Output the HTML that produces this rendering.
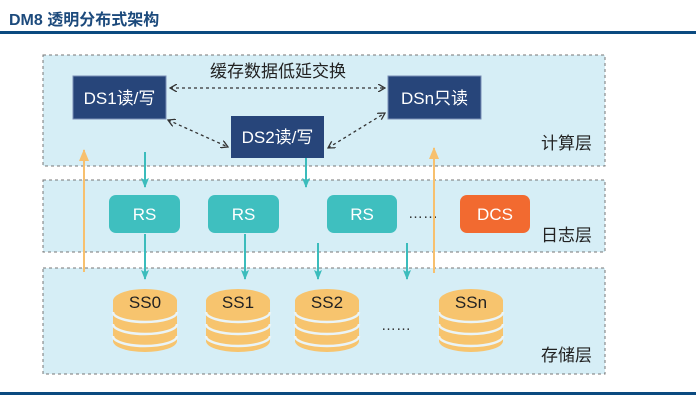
<!DOCTYPE html>
<html><head><meta charset="utf-8"><style>
body{margin:0;background:#fff;width:696px;height:406px;overflow:hidden}
svg{display:block}
text{font-family:"Liberation Sans","Noto Sans CJK SC",sans-serif}
</style></head><body>
<svg width="696" height="406" viewBox="0 0 696 406">
<defs>
<marker id="ta" markerWidth="10" markerHeight="8" refX="9" refY="4" orient="auto" markerUnits="userSpaceOnUse"><path d="M0,0 L10,4 L0,8 L2,4 Z" fill="#3bbcbc"/></marker>
<marker id="oa" markerWidth="12" markerHeight="10" refX="11" refY="5" orient="auto" markerUnits="userSpaceOnUse"><path d="M0,0 L12,5 L0,10 Z" fill="#f7c06e"/></marker>
<marker id="da" markerWidth="8" markerHeight="8" refX="7" refY="4" orient="auto" markerUnits="userSpaceOnUse"><path d="M0,0 L7,4 L0,8" fill="none" stroke="#333" stroke-width="1.3"/></marker>
<marker id="ds" markerWidth="8" markerHeight="8" refX="1" refY="4" orient="auto" markerUnits="userSpaceOnUse"><path d="M8,0 L1,4 L8,8" fill="none" stroke="#333" stroke-width="1.3"/></marker>
<g id="cyl">
<ellipse cx="0" cy="52" rx="32" ry="11" fill="#f7c46e"/>
<rect x="-32" y="11" width="64" height="41" fill="#f7c46e"/>
<path d="M-32,23 A32,10 0 0 0 32,23" fill="none" stroke="#eaf4f7" stroke-width="2.5"/>
<path d="M-32,35 A32,10 0 0 0 32,35" fill="none" stroke="#eaf4f7" stroke-width="2.5"/>
<path d="M-32,47 A32,10 0 0 0 32,47" fill="none" stroke="#eaf4f7" stroke-width="2.5"/>
<ellipse cx="0" cy="12" rx="32" ry="12" fill="#f7c46e"/>
</g>
</defs>
<text x="9" y="25" font-size="16" font-weight="bold" fill="#1c4a7c">DM8 透明分布式架构</text>
<rect x="0" y="31" width="696" height="3" fill="#0b4a80"/>
<rect x="0" y="392" width="696" height="3" fill="#0b4a80"/>

<rect x="43" y="55" width="562" height="111" fill="#d6eef6" stroke="#777" stroke-dasharray="3,3"/>
<rect x="43" y="180" width="562" height="72" fill="#d6eef6" stroke="#777" stroke-dasharray="3,3"/>
<rect x="43" y="268" width="562" height="106" fill="#d6eef6" stroke="#777" stroke-dasharray="3,3"/>

<text x="210" y="77" font-size="17" fill="#222">缓存数据低延交换</text>
<rect x="73" y="76" width="93" height="43" fill="#27457a" stroke="#7a8fb5"/>
<text x="119.5" y="104" font-size="17" fill="#fff" text-anchor="middle">DS1读/写</text>
<rect x="231" y="116" width="93" height="42" fill="#27457a"/>
<text x="277.5" y="143" font-size="17" fill="#fff" text-anchor="middle">DS2读/写</text>
<rect x="388" y="76" width="93" height="43" fill="#27457a" stroke="#7a8fb5"/>
<text x="434.5" y="104" font-size="17" fill="#fff" text-anchor="middle">DSn只读</text>

<line x1="170" y1="88" x2="385" y2="88" stroke="#333" stroke-width="1.3" stroke-dasharray="3,3" marker-start="url(#ds)" marker-end="url(#da)"/>
<line x1="168" y1="120" x2="228" y2="147" stroke="#333" stroke-width="1.3" stroke-dasharray="3,3" marker-start="url(#ds)" marker-end="url(#da)"/>
<line x1="328" y1="148" x2="385" y2="113" stroke="#333" stroke-width="1.3" stroke-dasharray="3,3" marker-start="url(#ds)" marker-end="url(#da)"/>

<text x="541" y="149" font-size="17" fill="#222">计算层</text>
<text x="541" y="241" font-size="17" fill="#222">日志层</text>
<text x="541" y="361" font-size="17" fill="#222">存储层</text>

<rect x="109" y="195" width="71" height="38" rx="7" fill="#3fbfbf"/>
<text x="144.5" y="220" font-size="17" fill="#fff" text-anchor="middle">RS</text>
<rect x="208" y="195" width="71" height="38" rx="7" fill="#3fbfbf"/>
<text x="243.5" y="220" font-size="17" fill="#fff" text-anchor="middle">RS</text>
<rect x="327" y="195" width="70" height="38" rx="7" fill="#3fbfbf"/>
<text x="362" y="220" font-size="17" fill="#fff" text-anchor="middle">RS</text>
<text x="408" y="218" font-size="15" fill="#333">……</text>
<rect x="460" y="195" width="70" height="38" rx="7" fill="#f26a30"/>
<text x="495" y="220" font-size="17" fill="#fff" text-anchor="middle">DCS</text>

<line x1="84" y1="272" x2="84" y2="150" stroke="#f7c06e" stroke-width="2" marker-end="url(#oa)"/>
<line x1="434" y1="273" x2="434" y2="148" stroke="#f7c06e" stroke-width="2" marker-end="url(#oa)"/>

<g stroke="#3bbcbc" stroke-width="2">
<line x1="145" y1="152" x2="145" y2="187" marker-end="url(#ta)"/>
<line x1="306" y1="158" x2="306" y2="187" marker-end="url(#ta)"/>
<line x1="145" y1="234" x2="145" y2="279" marker-end="url(#ta)"/>
<line x1="245" y1="234" x2="245" y2="279" marker-end="url(#ta)"/>
<line x1="318" y1="243" x2="318" y2="279" marker-end="url(#ta)"/>
<line x1="407" y1="243" x2="407" y2="279" marker-end="url(#ta)"/>
</g>

<use href="#cyl" x="145" y="289"/>
<use href="#cyl" x="238" y="289"/>
<use href="#cyl" x="327" y="289"/>
<use href="#cyl" x="471" y="289"/>
<text x="145" y="308" font-size="17" fill="#222" text-anchor="middle">SS0</text>
<text x="238" y="308" font-size="17" fill="#222" text-anchor="middle">SS1</text>
<text x="327" y="308" font-size="17" fill="#222" text-anchor="middle">SS2</text>
<text x="471" y="308" font-size="17" fill="#222" text-anchor="middle">SSn</text>
<text x="381" y="330" font-size="15" fill="#333">……</text>
</svg>
</body></html>
